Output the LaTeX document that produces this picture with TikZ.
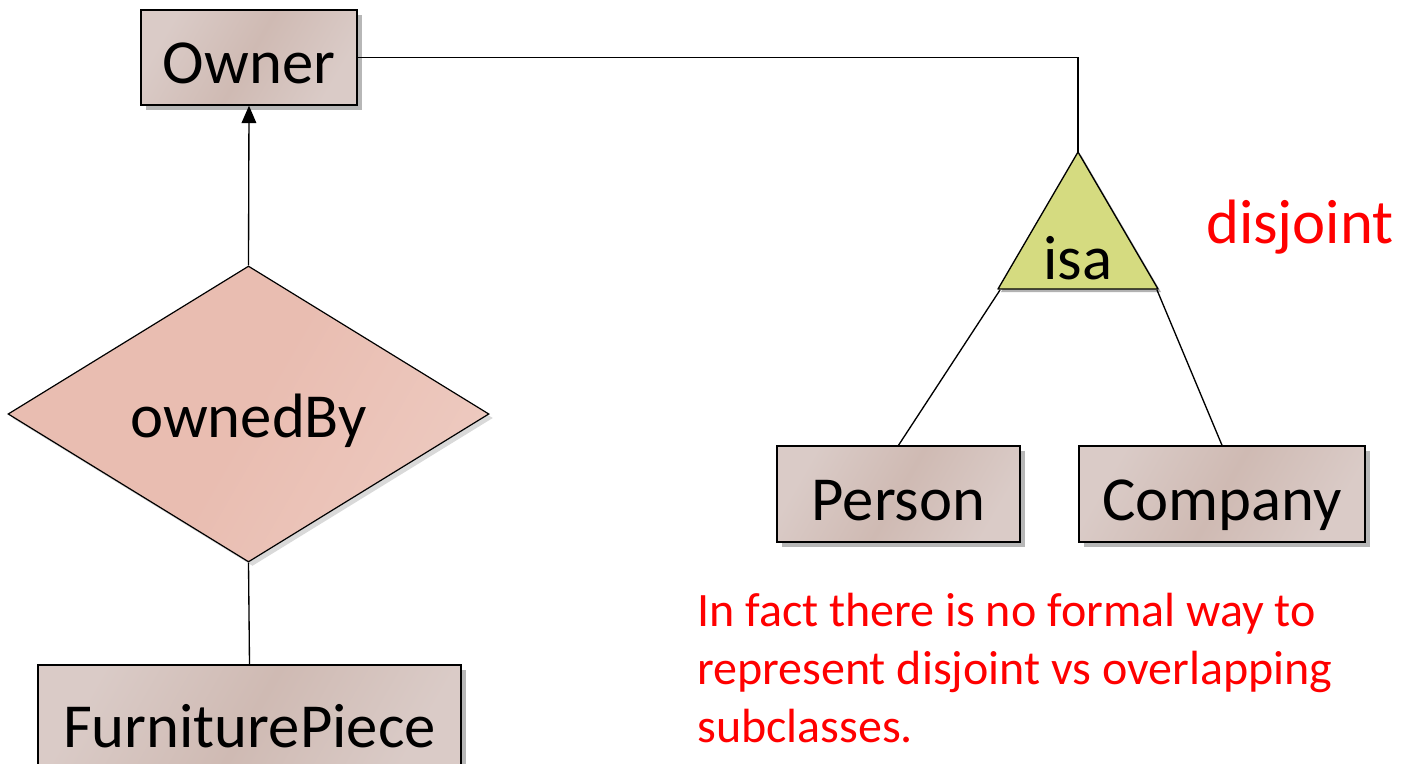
\documentclass[tikz,border=0pt]{standalone}
\usepackage{fontspec}
\setmainfont{Carlito}
\usetikzlibrary{shapes.geometric,shadows,arrows.meta,calc}
\definecolor{entA}{HTML}{DACBC7}
\definecolor{entB}{HTML}{CFBAB3}
\definecolor{relA}{HTML}{EDC9BF}
\definecolor{relB}{HTML}{E9BDB1}
\definecolor{isafill}{HTML}{D5DB80}
\definecolor{note}{HTML}{FF0000}
\tikzset{
  entity/.style={draw=black, line width=1.1pt, rectangle, inner sep=0pt,
    left color=entA, right color=entA, middle color=entB, shading angle=60,
    drop shadow={shadow xshift=4pt, shadow yshift=-4pt, opacity=0.4, fill=black!70},
    font=\fontsize{47}{56}\selectfont, text height=39.5pt, text depth=0pt},
  relation/.style={draw=black, line width=0.9pt, diamond, aspect=1.62, inner sep=0pt,
    left color=relB, right color=relA, middle color=relB, shading angle=60,
    drop shadow={shadow xshift=3pt, shadow yshift=-3pt, opacity=0.3},
    font=\fontsize{47}{56}\selectfont, text height=35.7pt, text depth=0pt},
  link/.style={draw=black, line width=1pt},
  redtext/.style={text=note, font=\fontsize{36}{43.5}\selectfont}
}
\begin{document}
\begin{tikzpicture}[x=0.75pt, y=-0.75pt]
  \useasboundingbox (0,0) rectangle (1401,763);

  % entity boxes
  \node[entity, minimum width=216*0.75pt, minimum height=95*0.75pt] (owner) at (249,57.5) {Owner};
  \node[entity, minimum width=423*0.75pt, minimum height=112*0.75pt] (furn) at (249.5,721) {FurniturePiece};
  \node[entity, minimum width=243*0.75pt, minimum height=96*0.75pt] (person) at (898.5,494) {Person};
  \node[entity, minimum width=286*0.75pt, minimum height=96*0.75pt] (company) at (1222,494) {Company};

  % relationship
  \node[relation, minimum width=481*0.75pt, minimum height=296*0.75pt] (owned) at (248.5,414) {ownedBy};

  % isa triangle
  \coordinate (apex) at (1078,152);
  \coordinate (bl) at (998,289);
  \coordinate (br) at (1158,289);
  \fill[black, opacity=0.3] ($(apex)+(3,3)$) -- ($(br)+(3,3)$) -- ($(bl)+(3,3)$) -- cycle;
  \draw[line width=1pt, fill=isafill, line join=round] (apex) -- (br) -- (bl) -- cycle;
  \node[font=\fontsize{47}{56}\selectfont, anchor=base] (isa) at (1078,279) {isa};

  % connectors
  \draw[link, -{Triangle[length=13pt, width=11pt]}] (owned.north) -- (owner.south);
  \draw[link] (owned.south) -- (furn.north);
  \draw[link] (owner.east) -| (apex);
  \coordinate (pl) at (1000,290);
  \coordinate (cr) at (1157,290);
  \draw[link] (pl) -- (person.north);
  \draw[link] (cr) -- (company.north);

  % annotations
  \node[text=note, font=\fontsize{47}{56}\selectfont, anchor=base] (disj) at (1300,243) {disjoint};
  \node[redtext, anchor=base west, align=left, inner sep=0pt] (remark) at (697,742)
    {In fact there is no formal way to\\represent disjoint vs overlapping\\subclasses.};
\end{tikzpicture}
\end{document}
